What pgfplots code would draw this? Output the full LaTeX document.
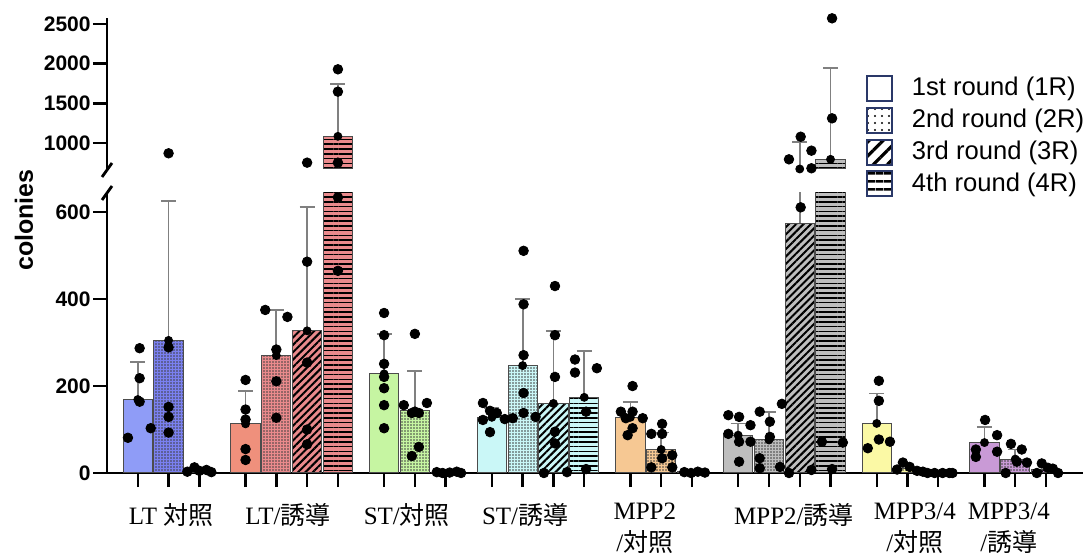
\documentclass[border=0pt]{standalone}
\usepackage{fontspec}
\setmainfont{Liberation Serif}
\newfontfamily\jp{Noto Sans CJK JP}
\newfontfamily\arial{Liberation Sans}
\usepackage{pgfplots}
\pgfplotsset{compat=1.18}
\usetikzlibrary{patterns,patterns.meta}

\definecolor{cLTa}{HTML}{8F9CF7}
\definecolor{cLTb}{HTML}{7A80F0}
\definecolor{cLIa}{HTML}{EF907C}
\definecolor{cLIb}{HTML}{EA8A8C}
\definecolor{cSTa}{HTML}{C6F5A2}
\definecolor{cSIa}{HTML}{CAF7F7}
\definecolor{cMPa}{HTML}{F6C893}
\definecolor{cMPi}{HTML}{BEBEBE}
\definecolor{cMQa}{HTML}{FBF9A5}
\definecolor{cMQi}{HTML}{C99AD6}
\definecolor{legnavy}{HTML}{2A3868}

\tikzset{
  pdots/.style={postaction={pattern={Dots[radius=0.4pt,distance=1.5pt]},pattern color=black!75}},
  pdiag/.style={postaction={pattern={Lines[angle=45,distance=2.6pt,line width=1pt]},pattern color=black}},
  phor/.style={postaction={pattern={Lines[angle=0,distance=2.4pt,line width=0.85pt]},pattern color=black}},
}

\newcommand{\B}[4]{\addplot[ybar,bar width=0.95,bar shift=0pt,fill=#3,draw=black!70,line width=0.5pt,forget plot,#4] coordinates {(#1,#2)};}

\pgfplotsset{
  common/.style={
    scale only axis, width=488pt,
    xmin=-1, xmax=30.7,
    axis line style={line width=1.4pt, black},
    tick align=outside, major tick length=7pt,
    every tick/.style={black, line width=1.2pt},
    yticklabel style={font=\arial\bfseries\fontsize{10.5}{12}\selectfont, inner sep=1pt},
    /pgf/number format/assume math mode=true,
    /pgf/number format/1000 sep={},
  },
  ebar/.style={only marks, mark=none, forget plot,
    error bars/.cd, y dir=plus, y explicit, error mark=-,
    error bar style={draw=black!50, line width=0.9pt},
    error mark options={draw=black!50, line width=0.9pt, mark size=3.75pt, rotate=90}},
  dots/.style={only marks, mark=*, mark size=2.4pt, black, forget plot},
}

\begin{document}
\begin{tikzpicture}
\useasboundingbox (0,0) rectangle (544pt,278.5pt);

% lower segment
\begin{axis}[common,
  at={(53.5pt,42pt)}, anchor=south west, height=140pt,
  ymin=0, ymax=644,
  axis x line*=bottom, axis y line*=left,
  ytick={0,200,400,600},
  xtick={0,1,2,3.5,4.5,5.5,6.5,8,9,10,11.5,12.5,13.5,14.5,16,17,18,19.5,20.5,21.5,22.5,24,25,26,27.5,28.5,29.5},
  xticklabels={},
  extra x ticks={1.08,4.88,8.74,12.58,16.47,21.31,25.24,28.29},
  extra x tick labels={LT {\jp 対照},LT/{\jp 誘導},ST/{\jp 対照},ST/{\jp 誘導},MPP2\\/{\jp 対照},MPP2/{\jp 誘導},MPP3/4\\/{\jp 対照},MPP3/4\\/{\jp 誘導}},
  extra x tick style={major tick length=0pt,
    xticklabel style={align=center, font=\fontsize{12.5}{16}\selectfont, anchor=north, inner sep=0pt, yshift=-15pt}},
]
\B{0}{169}{cLTa}{}
\B{1}{305}{cLTb}{pdots}
\B{2}{6}{cLTb}{pdiag}
\B{3.5}{113}{cLIa}{}
\B{4.5}{270}{cLIb}{pdots}
\B{5.5}{327}{cLIb}{pdiag}
\B{6.5}{1084}{cLIb}{phor}
\B{8}{228}{cSTa}{}
\B{9}{143}{cSTa}{pdots}
\B{10}{2}{cSTa}{pdiag}
\B{11.5}{128}{cSIa}{}
\B{12.5}{247}{cSIa}{pdots}
\B{13.5}{160}{cSIa}{pdiag}
\B{14.5}{174}{cSIa}{phor}
\B{16}{128}{cMPa}{}
\B{17}{54}{cMPa}{pdots}
\B{18}{3}{cMPa}{pdiag}
\B{19.5}{87}{cMPi}{}
\B{20.5}{76}{cMPi}{pdots}
\B{21.5}{574}{cMPi}{pdiag}
\B{22.5}{794}{cMPi}{phor}
\B{24}{114}{cMQa}{}
\B{25}{10}{cMQa}{pdots}
\B{26}{1}{cMQa}{pdiag}
\B{27.5}{70}{cMQi}{}
\B{28.5}{32}{cMQi}{pdots}
\B{29.5}{9}{cMQi}{pdiag}
\addplot[ebar] coordinates {
(0,169) +- (0,86)
(1,305) +- (0,320)
(3.5,113) +- (0,75)
(4.5,270) +- (0,105)
(5.5,327) +- (0,284)
(8,228) +- (0,91)
(9,143) +- (0,92)
(11.5,128) +- (0,21)
(12.5,247) +- (0,153)
(13.5,160) +- (0,166)
(14.5,174) +- (0,107)
(16,128) +- (0,36)
(17,54) +- (0,39)
(19.5,87) +- (0,27)
(20.5,76) +- (0,65)
(24,114) +- (0,69)
(27.5,70) +- (0,35)
(28.5,32) +- (0,22)
};
\addplot[black!50, line width=0.9pt, forget plot] coordinates {(21.5,574) (21.5,700)};
\addplot[dots] coordinates {
(-0.32,81) (0.06,218) (0.06,164) (0.42,103) (0.06,287)
(1,289) (1,152) (1,129) (1,93)
(1.61,3) (1.84,13) (2.0,5) (2.23,7) (2.39,2)
(3.5,214) (3.5,146) (3.5,123) (3.5,55) (3.5,30)
(4.14,375) (4.86,359) (4.5,284) (4.5,211) (4.5,127)
(5.5,486) (5.5,254) (5.5,100) (5.5,66)
(6.5,634) (6.5,465)
(8,368) (8,317) (8,251) (8,221) (8,195) (8,156) (8,103)
(8.64,156) (8.9,138) (9.13,138) (9.39,161) (9.13,60) (8.9,39) (9.0,320)
(9.71,2) (9.9,0) (10.13,1) (10.36,3) (10.5,0)
(11.21,161) (11.21,122) (11.44,143) (11.44,94) (11.66,138) (11.92,124) (12.18,126)
(12.53,511) (12.53,388) (12.53,271) (12.53,184) (12.53,138) (12.92,129)
(13.55,430) (13.55,317) (13.55,221) (13.55,95) (13.55,68) (13.19,0) (13.94,2)
(14.2,261) (14.2,231) (14.91,241) (14.56,141) (14.56,9)
(16.07,200) (15.69,141) (16.07,141) (16.4,126) (15.91,87) (16.07,103) (15.85,126)
(17.03,113) (16.68,90) (17.03,90) (17.03,34) (17.36,41) (16.68,13) (17.36,13)
(17.75,2) (17.97,0) (18.19,3) (18.42,1)
(19.18,133) (19.53,129) (19.9,110) (19.18,90) (19.53,72) (19.9,72) (19.53,26)
(20.2,141) (20.53,118) (20.53,83) (20.92,159) (20.2,34) (20.2,11) (20.86,14)
(21.53,611) (21.15,0) (21.88,7)
(22.22,72) (22.9,70) (22.55,9)
(24.07,212) (24.07,166) (24.07,77) (23.71,57) (24.43,72)
(24.66,8) (24.85,24) (25.07,14) (25.31,5) (25.5,3)
(25.65,0) (25.88,0) (26.14,0) (26.36,0) (26.46,0)
(27.52,122) (27.91,87) (27.22,54) (27.91,49) (27.22,37)
(28.36,67) (28.71,54) (28.55,26) (28.88,24) (28.19,0)
(29.36,22) (29.2,0) (29.56,12) (29.72,10) (29.89,0)
};
\end{axis}

% upper segment
\begin{axis}[common,
  at={(53.5pt,194pt)}, anchor=south west, height=75.5pt,
  ymin=672, ymax=2576,
  axis y line*=left, axis x line=none,
  ytick={1000,1500,2000,2500}, xtick=\empty,
  legend style={at={(0.777,0.636)}, anchor=north west, draw=none, fill=none,
    inner sep=0pt, row sep=1.2pt,
    font=\arial\fontsize{12.8}{14}\selectfont,
    /tikz/every odd column/.append style={column sep=7pt}},
  legend cell align=left,
  legend image code/.code={\draw[#1] (0pt,-6.25pt) rectangle (12.5pt,6.25pt);},
]
\B{6.5}{1084}{cLIb}{phor}
\B{22.5}{794}{cMPi}{phor}
\addplot[ebar] coordinates {
(6.5,1084) +- (0,664)
(21.5,672) +- (0,344)
(22.5,794) +- (0,1148)
};
\addplot[dots] coordinates {
(1,870) (5.5,752) (6.5,752) (6.5,1647) (6.5,1929)
(21.53,1079) (21.15,794) (21.88,903) (21.88,681)
(22.55,2572) (22.55,1311)
};
\addlegendimage{draw=legnavy, line width=1pt, fill=white}
\addlegendentry{1st round (1R)}
\addlegendimage{draw=legnavy, line width=1pt, fill=white, postaction={pattern={Dots[radius=0.6pt,distance=3.5pt]},pattern color=black}}
\addlegendentry{2nd round (2R)}
\addlegendimage{draw=legnavy, line width=1pt, fill=white, postaction={pattern={Lines[angle=45,distance=5pt,line width=1.6pt]},pattern color=black}}
\addlegendentry{3rd round (3R)}
\addlegendimage{draw=legnavy, line width=1pt, fill=white, postaction={pattern={Lines[angle=0,distance=4pt,line width=1.4pt]},pattern color=black}}
\addlegendentry{4th round (4R)}
\end{axis}

% axis break marks
\draw[line width=1.4pt] (51pt,190pt) -- (56pt,197pt);
\draw[line width=1.4pt] (51pt,178.5pt) -- (56pt,185.5pt);

\node[rotate=90, font=\arial\bfseries\fontsize{12.5}{15}\selectfont] at (12pt,168.5pt) {colonies};
\end{tikzpicture}
\end{document}
